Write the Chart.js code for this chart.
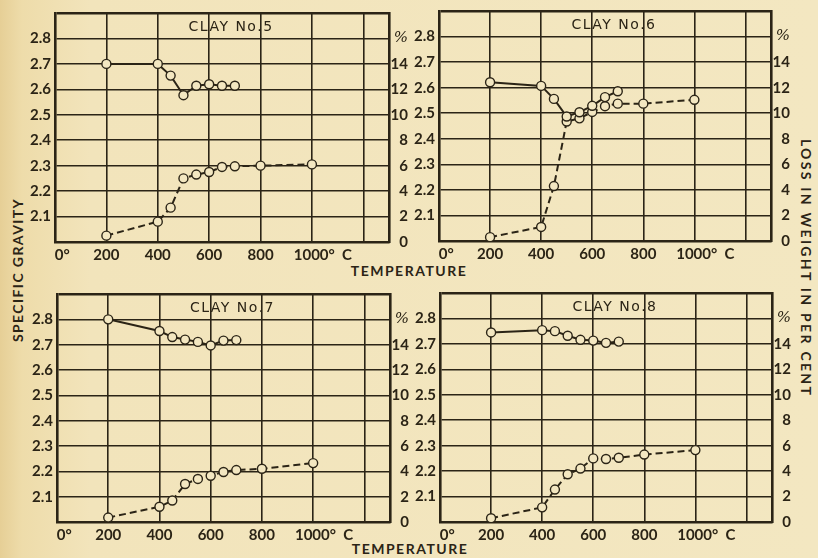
<!DOCTYPE html>
<html>
<head>
<meta charset="utf-8">
<title>Clay No.5 - No.8</title>
<script src="https://cdn.jsdelivr.net/npm/chart.js@4.4.1/dist/chart.umd.min.js"></script>
<style>
  html, body { margin: 0; padding: 0; }
  body {
    width: 818px; height: 558px; position: relative; overflow: hidden;
    background: linear-gradient(90deg, #e6cf96 0px, #eedcaa 22px, #f2e4bb 90px, #f3e7c1 100%);
    font-family: "DejaVu Sans", sans-serif; color: #2b2416;
  }
  .panel { position: absolute; }
  .label { position: absolute; font-family: Lato, "DejaVu Sans", sans-serif; font-size: 14px; font-weight: bold; white-space: nowrap; }
</style>
</head>
<body>

<div class="label" style="left:17px; top:270px; letter-spacing:1.4px; transform: translate(-50%, -50%) rotate(-90deg);">SPECIFIC GRAVITY</div>
<div class="label" style="left:806px; top:268px; letter-spacing:2.3px; transform: translate(-50%, -50%) rotate(90deg);">LOSS IN WEIGHT IN PER CENT</div>
<div class="label" style="left:409px; top:270px; letter-spacing:1.5px; transform: translate(-50%, -50%);">TEMPERATURE</div>
<div class="label" style="left:410px; top:548px; letter-spacing:1.5px; transform: translate(-50%, -50%);">TEMPERATURE</div>

<script>
// ================= Data =================
const clayNames = ["CLAY No.5", "CLAY No.6", "CLAY No.7", "CLAY No.8"];
const gravityTemps = [200, 400, 450, 500, 550, 600, 650, 700];
const lossTemps = [200, 400, 450, 500, 550, 600, 650, 700, 800, 1000];

const clay5Gravity = [2.70, 2.70, 2.654, 2.577, 2.614, 2.62, 2.614, 2.614];
const clay5Loss = [0.5, 1.6, 2.7, 5.0, 5.3, 5.5, 5.9, 5.95, 6.0, 6.1];
const clay6Gravity = [2.621, 2.607, 2.556, 2.487, 2.504, 2.529, 2.563, 2.586];
const clay6Loss = [0.3, 1.1, 4.3, 9.35, 9.6, 10.1, 10.55, 10.75, 10.75, 11.05];
const clay7Gravity = [2.80, 2.754, 2.73, 2.72, 2.711, 2.697, 2.716, 2.718];
const clay7Loss = [0.35, 1.2, 1.7, 3.0, 3.4, 3.65, 3.95, 4.1, 4.2, 4.65];
const clay8Gravity = [2.745, 2.754, 2.75, 2.732, 2.716, 2.713, 2.704, 2.709];
const clay8Loss = [0.3, 1.15, 2.55, 3.75, 4.2, 5.0, 4.95, 5.05, 5.3, 5.65];

// ================= Ticks =================
const tempTicks = [0, 200, 400, 600, 800, 1000, 1200, 1300];
const tempLabels = ["    0°", "200", "400", "600", "800", "      1000°  C", "", ""];
const gravityTicks = [2.0, 2.1, 2.2, 2.3, 2.4, 2.5, 2.6, 2.7, 2.8, 2.9];
const gravityLabels = ["", "2.1", "2.2", "2.3", "2.4", "2.5", "2.6", "2.7", "2.8", ""];
const lossTicks = [0, 2, 4, 6, 8, 10, 12, 14, 16, 18];
const lossLabels = ["0", "2", "4", "6", "8", "10", "12", "14", "%", ""];

// ================= Style / layout =================
const ink = "#2b2416";
const paper = "#f3e7c1";
const tickFont = { family: "Lato, 'DejaVu Sans', sans-serif", size: 15, weight: "bold" };
const percentFont = { family: "'DejaVu Serif', serif", size: 15, style: "italic" };

// plot area of each panel, in page pixels
const panels = [
    { left: 55, top: 13, right: 389, bottom: 242 },
    { left: 439, top: 11, right: 771, bottom: 241 },
    { left: 57, top: 294, right: 390, bottom: 522 },
    { left: 440, top: 293, right: 772, bottom: 522 }
];
const padL = 45, padR = 19, padT = 14, padB = 24;

// title written inside the plot, above the 2.8 line
const clayTitle = {
    id: "clayTitle",
    afterDraw(chart, args, opts) {
        const { ctx, chartArea, scales } = chart;
        const cx = chartArea.left + 0.527 * (chartArea.right - chartArea.left);
        const cy = (chartArea.top + scales.y.getPixelForValue(2.8)) / 2 + 1.5;
        ctx.save();
        ctx.font = "14px 'DejaVu Sans', sans-serif";
        ctx.letterSpacing = "1.5px";
        ctx.fillStyle = ink;
        ctx.textAlign = "center";
        ctx.textBaseline = "middle";
        ctx.fillText(opts.text, cx, cy);
        ctx.restore();
    }
};

function makePanel(i, gravity, loss) {
    const box = panels[i];
    const w = box.right - box.left + padL + padR;
    const h = box.bottom - box.top + padT + padB;

    const wrap = document.createElement("div");
    wrap.className = "panel";
    wrap.style.left = (box.left - padL) + "px";
    wrap.style.top = (box.top - padT) + "px";
    const canvas = document.createElement("canvas");
    canvas.width = w;
    canvas.height = h;
    wrap.appendChild(canvas);
    document.body.appendChild(wrap);

    const pointStyle = {
        borderColor: ink,
        borderWidth: 2,
        pointRadius: 4.5,
        pointBackgroundColor: paper,
        pointBorderColor: ink,
        pointBorderWidth: 1.4,
        tension: 0
    };

    new Chart(canvas.getContext("2d"), {
        type: "line",
        data: {
            datasets: [
                Object.assign({
                    label: "Specific gravity",
                    yAxisID: "y",
                    data: gravityTemps.map((t, k) => ({ x: t, y: gravity[k] }))
                }, pointStyle),
                Object.assign({
                    label: "Loss in weight",
                    yAxisID: "y1",
                    borderDash: [7, 4],
                    data: lossTemps.map((t, k) => ({ x: t, y: loss[k] }))
                }, pointStyle)
            ]
        },
        options: {
            responsive: false,
            animation: false,
            layout: { padding: { top: padT, left: 0, right: 0, bottom: 0 } },
            plugins: {
                legend: { display: false },
                tooltip: { enabled: false },
                clayTitle: { text: clayNames[i] }
            },
            scales: {
                x: {
                    type: "linear",
                    min: 0,
                    max: 1300,
                    afterBuildTicks: s => { s.ticks = tempTicks.map(v => ({ value: v })); },
                    afterFit: s => { s.height = padB; },
                    ticks: {
                        autoSkip: false,
                        maxRotation: 0,
                        padding: 4,
                        color: ink,
                        font: tickFont,
                        callback: (v, idx) => tempLabels[idx]
                    },
                    grid: { color: ink, lineWidth: 1.6, drawTicks: false },
                    border: { color: ink, width: 2.6 }
                },
                y: {
                    position: "left",
                    min: 2.0,
                    max: 2.9,
                    afterBuildTicks: s => { s.ticks = gravityTicks.map(v => ({ value: v })); },
                    afterFit: s => { s.width = padL; },
                    ticks: {
                        padding: 4,
                        color: ink,
                        font: tickFont,
                        callback: (v, idx) => gravityLabels[idx]
                    },
                    grid: {
                        color: ink,
                        drawTicks: false,
                        lineWidth: c => c.index === gravityTicks.length - 1 ? 2.6 : 1.6
                    },
                    border: { color: ink, width: 2.6 }
                },
                y1: {
                    position: "right",
                    min: 0,
                    max: 18,
                    afterBuildTicks: s => { s.ticks = lossTicks.map(v => ({ value: v })); },
                    afterFit: s => { s.width = padR; },
                    ticks: {
                        padding: 3,
                        crossAlign: "far",
                        color: ink,
                        font: c => c.index === 8 ? percentFont : tickFont,
                        callback: (v, idx) => lossLabels[idx]
                    },
                    grid: { drawOnChartArea: false, drawTicks: false },
                    border: { color: ink, width: 2.6 }
                }
            }
        },
        plugins: [clayTitle]
    });
}

// ================= Panels =================
makePanel(0, clay5Gravity, clay5Loss);
makePanel(1, clay6Gravity, clay6Loss);
makePanel(2, clay7Gravity, clay7Loss);
makePanel(3, clay8Gravity, clay8Loss);
</script>
</body>
</html>
